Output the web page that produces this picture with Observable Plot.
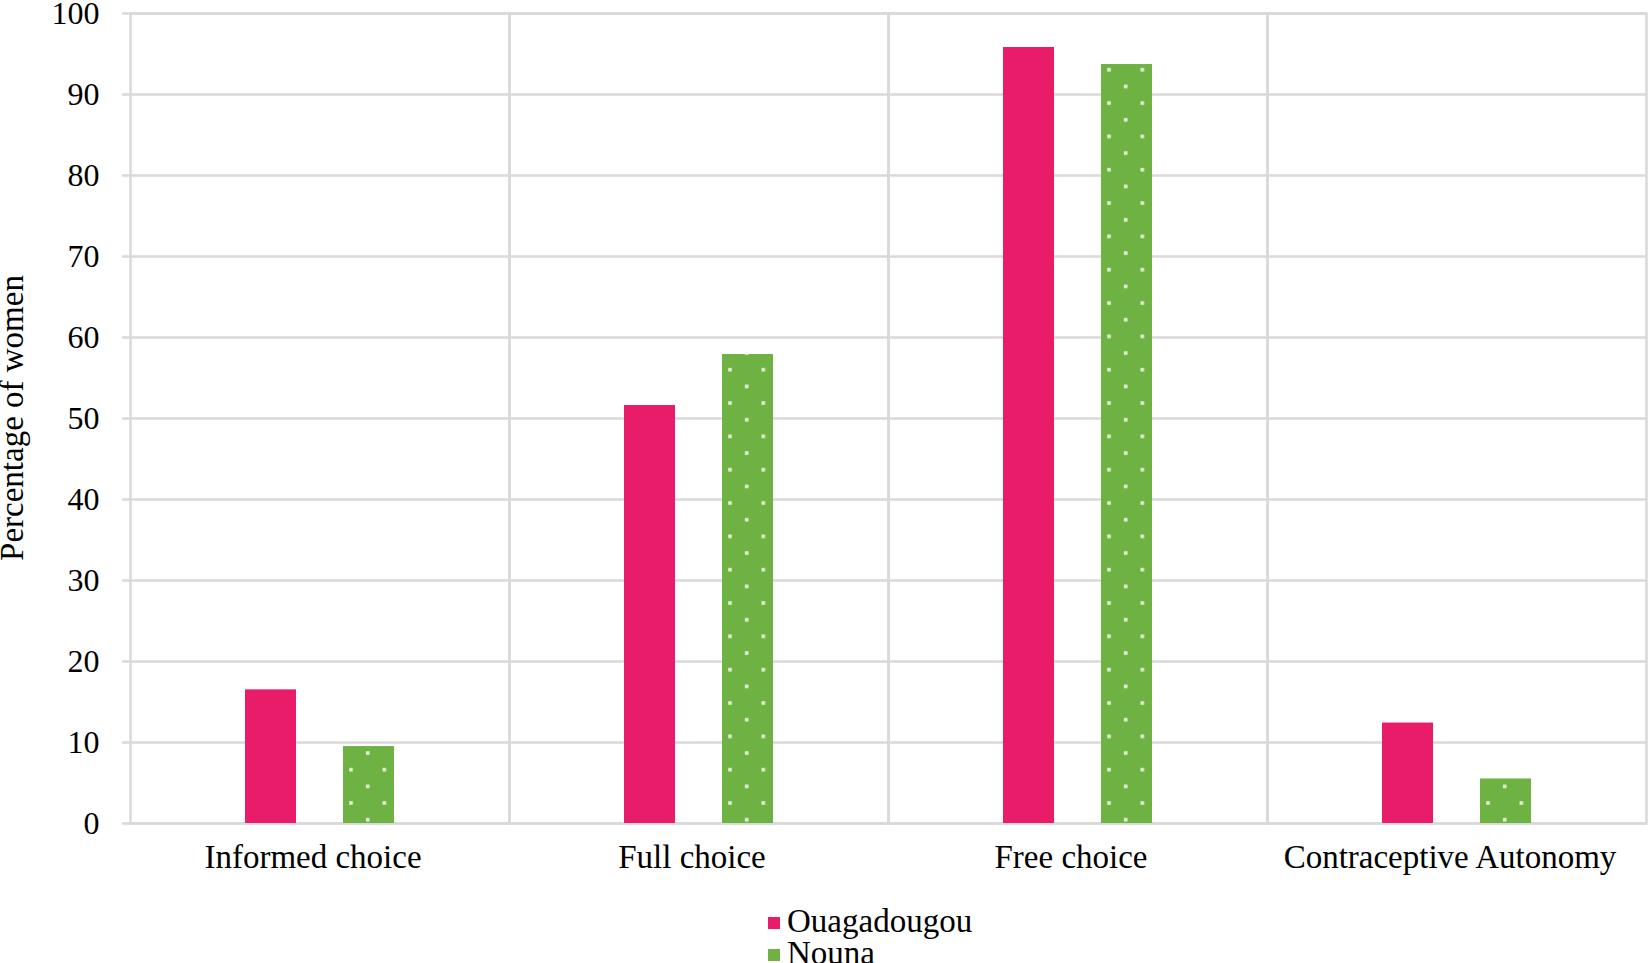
<!DOCTYPE html>
<html><head><meta charset="utf-8">
<script src="https://cdn.jsdelivr.net/npm/d3@7"></script>
<script src="https://cdn.jsdelivr.net/npm/@observablehq/plot@0.6"></script>
<style>
html,body{margin:0;padding:0;background:#fff;}
#wrap{position:relative;width:1651px;height:963px;overflow:hidden;font-family:"Liberation Serif","Times New Roman",serif;color:#000;}
#ylabel{position:absolute;left:-288px;top:402px;width:600px;height:32px;line-height:32px;font-size:33px;text-align:center;transform:rotate(-90deg);white-space:nowrap;}
#legend{padding-left:768px;padding-top:1px;font-size:33px;line-height:32px;}
.sw{display:inline-block;width:12px;height:12px;margin-right:7px;vertical-align:3px;}
</style></head><body><div id="wrap"><div id="chart"></div><div id="ylabel">Percentage of women</div><div id="legend"></div></div>
<script>
const categories = ["Informed choice", "Full choice", "Free choice", "Contraceptive Autonomy"];
const series = ["Ouagadougou", "Nouna"];
const ouagadougou = [16.5, 51.6, 95.8, 12.4];
const nouna = [9.5, 57.9, 93.7, 5.5];
const yTicks = [0, 10, 20, 30, 40, 50, 60, 70, 80, 90, 100];
const seriesColors = ["#e91c6a", "#6eb244"];

const data = categories.flatMap((c, i) => [
  {category: c, series: series[0], value: ouagadougou[i]},
  {category: c, series: series[1], value: nouna[i]}
]);

const grid = "#d9d9d9";
const svg = Plot.plot({
  width: 1651, height: 904,
  marginLeft: 128, marginRight: 4, marginTop: 13, marginBottom: 81,
  style: {fontFamily: "Liberation Serif, Times New Roman, serif", fontSize: "32px", color: "#000", background: "#fff", overflow: "visible"},
  fx: {domain: categories, padding: 0, label: null},
  x: {domain: series, paddingInner: 0.482, paddingOuter: 1.169, axis: null},
  y: {domain: [0, 100]},
  color: {domain: series, range: [seriesColors[0], "url(#dots)"]},
  marks: [
    Plot.ruleY(yTicks, {stroke: grid, strokeWidth: 2.5}),
    Plot.frame({stroke: grid, strokeWidth: 2.5}),
    Plot.barY(data, {fx: "category", x: "series", y: "value", fill: "series"}),
    Plot.axisY({ticks: yTicks, tickSize: 8, tickPadding: 23, stroke: grid, strokeWidth: 2.5, fill: "#000", label: null, tickFormat: d => d}),
    Plot.axisFx({anchor: "bottom", tickSize: 0, tickPadding: 21, label: null, dx: -7, fill: "#000", fontSize: 33})
  ]
});

const ns = "http://www.w3.org/2000/svg";
const defs = document.createElementNS(ns, "defs");
defs.innerHTML = `<pattern id="dots" patternUnits="userSpaceOnUse" x="8" y="10" width="33.33" height="33.33">
  <rect width="33.33" height="33.33" fill="${seriesColors[1]}"/>
  <rect x="5.9" y="24.6" width="3.6" height="3.6" fill="#e4efd8"/>
  <rect x="22.6" y="8" width="3.6" height="3.6" fill="#e4efd8"/>
</pattern>`;
svg.insertBefore(defs, svg.firstChild);
document.getElementById("chart").appendChild(svg);

document.getElementById("legend").innerHTML = series.map((s, i) =>
  `<div><span class="sw" style="background:${seriesColors[i]}"></span>${s}</div>`).join("");
</script>
</body></html>
